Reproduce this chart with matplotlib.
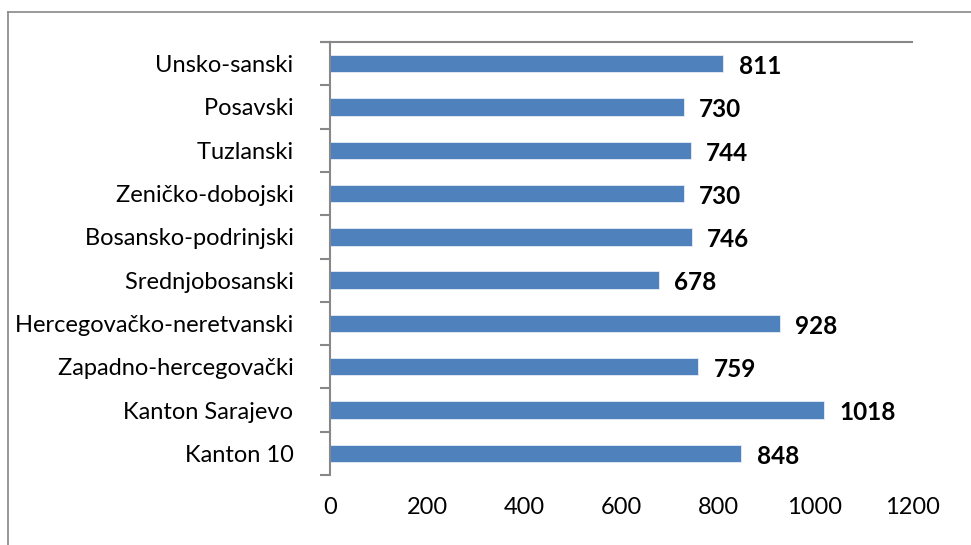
import matplotlib.pyplot as plt
import numpy as np
from matplotlib.lines import Line2D

# data, top to bottom as in the picture
kantoni = ['Unsko-sanski', 'Posavski', 'Tuzlanski', 'Zeničko-dobojski',
           'Bosansko-podrinjski', 'Srednjobosanski', 'Hercegovačko-neretvanski',
           'Zapadno-hercegovački', 'Kanton Sarajevo', 'Kanton 10']
vrijednosti = [811, 730, 744, 730, 746, 678, 928, 759, 1018, 848]
x_ticks = [0, 200, 400, 600, 800, 1000, 1200]

plt.rcParams['font.family'] = ['Lato', 'DejaVu Sans']

W, H = 971, 545
fig = plt.figure(figsize=(W / 100, H / 100), dpi=100)
# axes box in pixels: left 330, right 912, top 42, bottom 475
ax = fig.add_axes([330 / W, 1 - 475 / H, (912 - 330) / W, (475 - 42) / H])

y = np.arange(len(kantoni))
ax.barh(y, vrijednosti, height=0.4, color='#4f81bd', edgecolor='#e6eef7', linewidth=0.6)
ax.set_ylim(len(kantoni) - 0.5, -0.5)
ax.set_xlim(0, 1200)

for yi, v in zip(y, vrijednosti):
    ax.annotate(str(v), (v, yi), xytext=(11, -2), textcoords='offset points',
                va='center', ha='left', fontsize=17.5, fontweight='bold', color='black')

ax.set_yticks(y)
ax.set_yticklabels([k + ' ' for k in kantoni], fontsize=17)
ax.set_yticks(np.arange(len(kantoni) + 1) - 0.5, minor=True)
ax.tick_params(axis='y', which='major', length=0, pad=22)
ax.tick_params(axis='y', which='minor', length=7, color='#888888', width=1.5)

ax.set_xticks(x_ticks)
ax.set_xticklabels([str(t) for t in x_ticks], fontsize=17)
ax.tick_params(axis='x', length=0, pad=16)

for s in ['right', 'bottom']:
    ax.spines[s].set_visible(False)
ax.spines['left'].set_color('#888888')
ax.spines['left'].set_linewidth(1.5)
ax.spines['top'].set_color('#888888')
ax.spines['top'].set_linewidth(1.5)

# short extension of top line to the left, like the reference
fig.add_artist(Line2D([322 / W, 330 / W], [1 - 42 / H, 1 - 42 / H], color='#888888', lw=1.5))
# outer chart frame (only left and top are visible in the crop)
fig.add_artist(Line2D([8 / W, 8 / W], [0, 1 - 12 / H], color='#888888', lw=1.2))
fig.add_artist(Line2D([8 / W, 1], [1 - 12 / H, 1 - 12 / H], color='#888888', lw=1.2))

fig.savefig('out.png', dpi=100)
